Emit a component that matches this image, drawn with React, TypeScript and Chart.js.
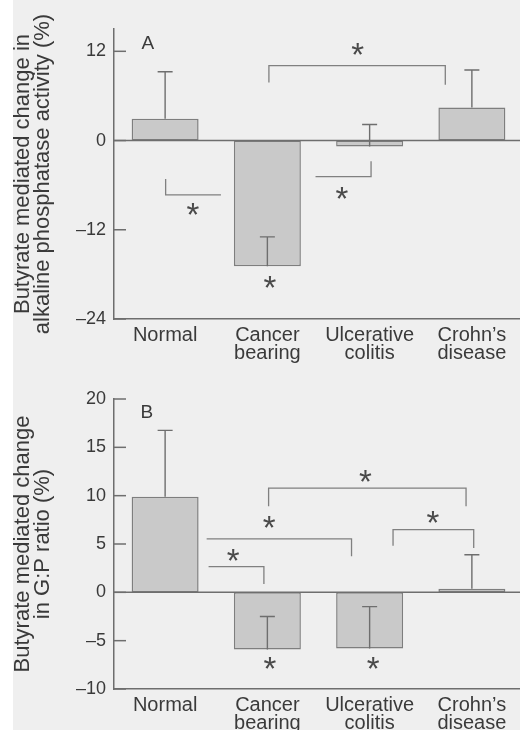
import React, { useEffect, useRef } from "react";
import { Chart, registerables } from "chart.js";

Chart.register(...registerables);

// ---------- data ----------
const categories: string[][] = [["Normal"], ["Cancer", "bearing"], ["Ulcerative", "colitis"], ["Crohn\u2019s", "disease"]];

const alpValues = [2.93, -16.9, -0.81, 4.45];
const alpErrors = [6.33, 3.95, 2.97, 5.04];
const alpTicks = [-24, -12, 0, 12];
const alpTitle = ["Butyrate mediated change in", "alkaline phosphatase activity (%)"];

const gpValues = [9.9, -5.92, -5.8, 0.37];
const gpErrors = [6.85, 3.42, 4.32, 3.52];
const gpTicks = [-10, -5, 0, 5, 10, 15, 20];
const gpTitle = ["Butyrate mediated change", "in G:P ratio (%)"];

// significance brackets as polylines of [category position, value]
const alpBrackets: number[][][] = [
  [[1.015, 7.8], [1.015, 10.07], [2.74, 10.07], [2.74, 7.5]],
  [[0.005, -5.16], [0.005, -7.32], [0.546, -7.32]],
  [[1.471, -4.85], [2.014, -4.85], [2.014, -2.78]],
];
const alpStars: number[][] = [[1.884, 12.36], [0.272, -9.2], [1.728, -7.05], [1.024, -19.05]];

const gpBrackets: number[][][] = [
  [[1.012, 8.9], [1.012, 10.77], [2.943, 10.77], [2.943, 8.9]],
  [[0.406, 5.52], [1.823, 5.52], [1.823, 3.73]],
  [[0.425, 2.65], [0.966, 2.65], [0.966, 0.86]],
  [[2.229, 4.82], [2.229, 6.48], [3.018, 6.48], [3.018, 4.59]],
];
const gpStars: number[][] = [[1.96, 12.07], [1.018, 7.25], [0.666, 3.89], [2.62, 7.76], [1.024, -7.35], [2.034, -7.35]];

// ---------- styles ----------
const FONT = "'Liberation Sans', Arial, Helvetica, sans-serif";
const TEXT = "#3a3a3a";
const LINE = "#6e6e6e";
const BAR_FILL = "#c9c9c9";
const BAR_EDGE = "#7e7e7e";

type PanelSpec = {
  label: string;
  labelPos: number[];
  values: number[];
  errors: number[];
  ticks: number[];
  min: number;
  max: number;
  title: string[];
  brackets: number[][][];
  stars: number[][];
  padTop: number;
  xAxisHeight: number;
};

const panelA: PanelSpec = {
  label: "A", labelPos: [-0.17, 12.95],
  values: alpValues, errors: alpErrors, ticks: alpTicks, min: -24, max: 15,
  title: alpTitle, brackets: alpBrackets, stars: alpStars, padTop: 29, xAxisHeight: 46,
};
const panelB: PanelSpec = {
  label: "B", labelPos: [-0.18, 18.53],
  values: gpValues, errors: gpErrors, ticks: gpTicks, min: -10, max: 20,
  title: gpTitle, brackets: gpBrackets, stars: gpStars, padTop: 34, xAxisHeight: 41,
};

function makeOverlay(spec: PanelSpec) {
  return {
    id: "overlay" + spec.label,
    afterDatasetsDraw(chart: any) {
      const ctx = chart.ctx as CanvasRenderingContext2D;
      const xs = chart.scales.x;
      const ys = chart.scales.y;
      const area = chart.chartArea;
      ctx.save();
      ctx.strokeStyle = LINE;
      ctx.lineWidth = 1.5;
      ctx.lineCap = "butt";
      // zero line
      const y0 = ys.getPixelForValue(0);
      ctx.beginPath();
      ctx.moveTo(area.left, y0);
      ctx.lineTo(area.right, y0);
      ctx.stroke();
      // inward ticks
      for (const t of spec.ticks) {
        const yy = ys.getPixelForValue(t);
        ctx.beginPath();
        ctx.moveTo(area.left, yy);
        ctx.lineTo(area.left + 12, yy);
        ctx.stroke();
      }
      // error bars (one-sided, upward)
      ctx.lineWidth = 1.4;
      spec.values.forEach((v, i) => {
        const cx = xs.getPixelForValue(i);
        const yA = ys.getPixelForValue(v);
        const yB = ys.getPixelForValue(v + spec.errors[i]);
        ctx.beginPath();
        ctx.moveTo(cx, yA);
        ctx.lineTo(cx, yB);
        ctx.moveTo(cx - 7.5, yB);
        ctx.lineTo(cx + 7.5, yB);
        ctx.stroke();
      });
      // brackets
      ctx.lineWidth = 1.3;
      ctx.strokeStyle = "#808080";
      for (const br of spec.brackets) {
        ctx.beginPath();
        br.forEach((p, k) => {
          const px = xs.getPixelForValue(p[0]);
          const py = ys.getPixelForValue(p[1]);
          if (k === 0) ctx.moveTo(px, py);
          else ctx.lineTo(px, py);
        });
        ctx.stroke();
      }
      // stars
      ctx.fillStyle = "#4a4a4a";
      ctx.font = `33px ${FONT}`;
      ctx.textAlign = "center";
      ctx.textBaseline = "alphabetic";
      const m = ctx.measureText("*");
      const mid = (m.actualBoundingBoxAscent - m.actualBoundingBoxDescent) / 2;
      for (const s of spec.stars) {
        const px = xs.getPixelForValue(s[0]);
        const py = ys.getPixelForValue(s[1]);
        ctx.fillText("*", px, py + mid);
      }
      // panel label
      ctx.fillStyle = TEXT;
      ctx.font = `19px ${FONT}`;
      ctx.textBaseline = "middle";
      ctx.fillText(spec.label, xs.getPixelForValue(spec.labelPos[0]), ys.getPixelForValue(spec.labelPos[1]));
      ctx.restore();
    },
  };
}

function Panel({ spec, top }: { spec: PanelSpec; top: number }) {
  const ref = useRef<HTMLCanvasElement | null>(null);
  useEffect(() => {
    if (!ref.current) return;
    const chart = new Chart(ref.current, {
      type: "bar",
      data: {
        labels: categories as any,
        datasets: [
          {
            data: spec.values,
            backgroundColor: BAR_FILL,
            borderColor: BAR_EDGE,
            borderWidth: 1.5,
            borderSkipped: false,
            barPercentage: 0.655,
            categoryPercentage: 1,
          },
        ],
      },
      options: {
        animation: false,
        responsive: true,
        maintainAspectRatio: false,
        layout: { padding: { top: spec.padTop, right: 1, left: 0, bottom: 0 } },
        plugins: { legend: { display: false }, tooltip: { enabled: false } },
        scales: {
          x: {
            grid: { display: false, drawTicks: false },
            border: { display: true, color: LINE, width: 1.5 },
            ticks: {
              color: TEXT,
              font: { family: FONT, size: 20, lineHeight: 0.92 },
              padding: 7,
              maxRotation: 0,
              autoSkip: false,
            },
            afterFit(scale: any) {
              scale.height = spec.xAxisHeight;
            },
          },
          y: {
            min: spec.min,
            max: spec.max,
            grid: { display: false, drawTicks: false },
            border: { display: true, color: LINE, width: 1.5 },
            ticks: {
              color: TEXT,
              font: { family: FONT, size: 18 },
              padding: 8,
              callback: (v: any) => (Number(v) < 0 ? "\u2013" + Math.abs(Number(v)) : String(v)),
            },
            afterBuildTicks(scale: any) {
              scale.ticks = spec.ticks.map((v) => ({ value: v }));
            },
            afterFit(scale: any) {
              scale.width = 114;
            },
            title: {
              display: true,
              text: spec.title,
              color: TEXT,
              font: { family: FONT, size: 22, lineHeight: 0.91 },
              padding: { top: 13, bottom: 0 },
            },
          },
        },
      },
      plugins: [makeOverlay(spec)],
    });
    return () => chart.destroy();
  }, [spec]);
  return (
    <div style={{ position: "absolute", left: 0, top, width: 524, height: 365 }}>
      <canvas ref={ref} />
    </div>
  );
}

export default function App() {
  return (
    <div
      style={{
        position: "fixed",
        left: 0,
        top: 0,
        width: 520,
        height: 730,
        overflow: "hidden",
        background: "linear-gradient(to right, #ffffff 13px, #efefef 13px)",
      }}
    >
      <Panel spec={panelA} top={0} />
      <Panel spec={panelB} top={365} />
    </div>
  );
}
